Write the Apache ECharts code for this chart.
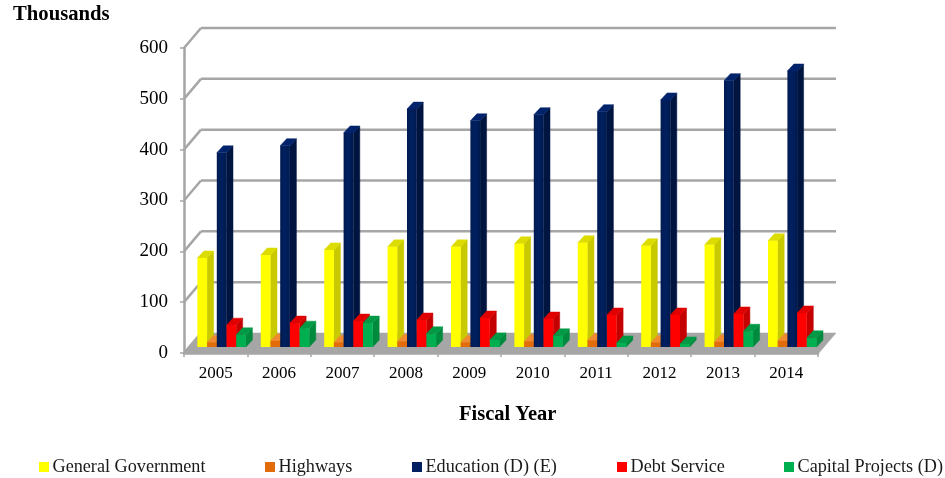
<!DOCTYPE html>
<html><head><meta charset="utf-8">
<style>html,body{margin:0;padding:0;background:#fff}#c{width:945px;height:478px}</style>
<script src="https://cdn.jsdelivr.net/npm/echarts@6/dist/echarts.min.js"></script>
</head><body><div id="c"></div>
<script>
const years = ['2005','2006','2007','2008','2009','2010','2011','2012','2013','2014'];
const ticks = [0,100,200,300,400,500,600];
const generalGovernment = [175,181,191,197,197,203,205,199,201,209];
const highways = [9,12,9,11,9,11,13,9,10,12];
const education = [382,396,421,468,445,457,463,486,524,543];
const debtService = [43,47,51,53,57,55,63,63,65,67];
const capitalProjects = [24,37,47,26,14,22,8,6,31,18];

const FONT = '"Liberation Serif","Times New Roman",serif';
const GRID = '#a6a6a6';
const WALL_DX = 17, WALL_DY = -20;
const BAR_W = 9.7, DEPTH_X = 6.5, DEPTH_Y = 7, BASE_DY = -6;

const chart = echarts.init(document.getElementById('c'), null, {renderer:'canvas'});

function poly(points, fill, stroke){
  return {type:'polygon', shape:{points}, style:{fill, stroke: stroke||fill, lineWidth:stroke?1:0.5}};
}
function barSeries(name, values, offset, front, side, top, frontEdge){
  return {
    name, type:'custom', coordinateSystem:'cartesian2d', clip:false, animation:false,
    itemStyle:{color:front},
    encode:{x:0,y:1},
    data: values.map((v,i)=>[i,v]),
    renderItem(params, api){
      const p = api.coord([api.value(0), api.value(1)]);
      const b = api.coord([api.value(0), 0]);
      const x0 = p[0] + offset, x1 = x0 + BAR_W;
      const yT = p[1] + BASE_DY, yB = b[1] + BASE_DY;
      const fill = frontEdge ? new echarts.graphic.LinearGradient(0,0,1,0,[
        {offset:0,color:frontEdge},{offset:0.45,color:front},{offset:1,color:frontEdge}]) : front;
      return {type:'group', children:[
        poly([[x1,yT],[x1+DEPTH_X,yT-DEPTH_Y],[x1+DEPTH_X,yB-DEPTH_Y],[x1,yB]], side),
        poly([[x0,yT],[x0+DEPTH_X,yT-DEPTH_Y],[x1+DEPTH_X,yT-DEPTH_Y],[x1,yT]], top),
        {type:'rect', shape:{x:x0,y:yT,width:BAR_W,height:yB-yT}, style:{fill}}
      ]};
    }
  };
}
const wallSeries = {
  name:'walls', type:'custom', coordinateSystem:'cartesian2d', clip:false, animation:false, silent:true, z:1,
  encode:{y:1},
  data: ticks.map(t=>[0,t]),
  renderItem(params, api){
    const t = api.value(1);
    const cs = params.coordSys;
    const xL = cs.x, xR = cs.x + cs.width;
    const y = api.coord([0,t])[1];
    const st = {stroke:GRID, lineWidth:2.5, fill:null};
    const kids = [];
    if (t === 0){
      kids.push(poly([[xL,y],[xR,y+1],[xR+WALL_DX+1,y+WALL_DY],[xL+WALL_DX,y+WALL_DY]], GRID));
    } else {
      kids.push({type:'line',shape:{x1:xL+WALL_DX,y1:y+WALL_DY,x2:xR+WALL_DX+1,y2:y+WALL_DY},style:st});
    }
    kids.push({type:'line',shape:{x1:xL,y1:y,x2:xL+WALL_DX,y2:y+WALL_DY},style:st});
    return {type:'group',children:kids};
  }
};
const legendAt = [['General Government',39],['Highways',265],['Education (D) (E)',412],['Debt Service',617],['Capital Projects (D)',784]];

chart.setOption({
  animation:false,
  backgroundColor:'#fff',
  title:[
    {text:'Thousands', left:13, top:4, padding:0, textStyle:{fontFamily:FONT,fontSize:20.7,fontWeight:'bold',color:'#000'}},
    {text:'Fiscal Year', left:459, top:404, padding:0, textStyle:{fontFamily:FONT,fontSize:20.5,fontWeight:'bold',color:'#000'}}
  ],
  grid:{left:184, top:48, width:634, height:305, containLabel:false},
  xAxis:{type:'category', data:years, boundaryGap:true,
    axisLine:{lineStyle:{color:GRID,width:2.5}},
    axisTick:{show:true,length:4,lineStyle:{color:GRID,width:1.5}},
    axisLabel:{fontFamily:FONT,fontSize:17,color:'#000',margin:12},
    splitLine:{show:false}},
  yAxis:{type:'value', min:0, max:600, interval:100,
    axisLine:{show:true,lineStyle:{color:GRID,width:2.5}},
    axisTick:{show:true,length:4,lineStyle:{color:GRID,width:1.5}},
    axisLabel:{fontFamily:FONT,fontSize:19,color:'#000',margin:16},
    splitLine:{show:false}},
  legend: legendAt.map(([name,left])=>({
    data:[name], left, top:458, padding:0, orient:'horizontal', icon:'rect', itemWidth:10, itemHeight:10, itemGap:0,
    textStyle:{fontFamily:FONT,fontSize:18.2,color:'#1a1a1a',padding:[0,0,0,-1.5]}, selectedMode:false
  })),
  series:[
    wallSeries,
    barSeries('General Government', generalGovernment, -18.3, '#ffff00', '#c9c900', '#dcdc00'),
    barSeries('Highways', highways, -8.6, '#e36c0a', '#b85608', '#f08a30'),
    barSeries('Education (D) (E)', education, 1.1, '#002060', '#001440', '#00236b', '#001a50'),
    barSeries('Debt Service', debtService, 10.8, '#ff0000', '#c40000', '#e00000'),
    barSeries('Capital Projects (D)', capitalProjects, 20.5, '#00b050', '#008a3e', '#009a46')
  ]
});
</script></body></html>
